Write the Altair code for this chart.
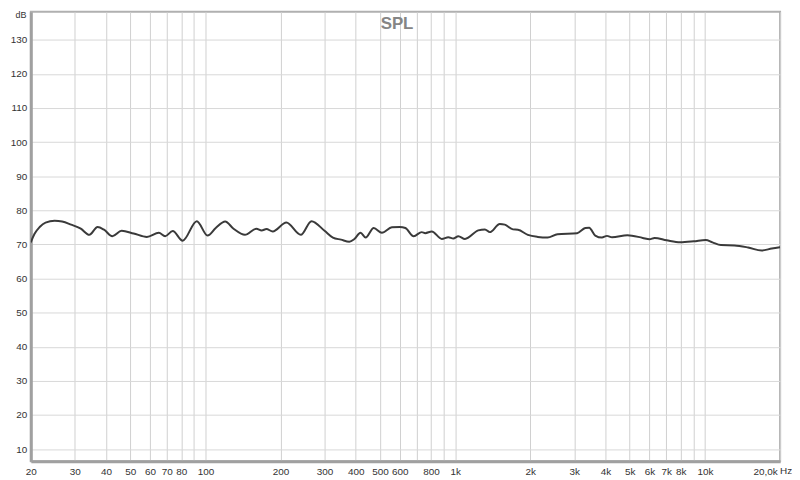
import altair as alt
import pandas as pd

freq = [20, 20.7, 21.7, 22.9, 24.9, 26.7, 29.0, 31.7, 34.3, 37.0, 39.3, 42.4, 46.2, 51.6,
        58.3, 65.1, 69.0, 74.0, 81.1, 92.4, 102, 110, 120, 129.6, 144, 160, 168, 175.5,
        186, 211, 241, 266, 300, 324, 349, 377, 395, 418, 438, 472, 509, 558, 600, 632,
        682, 735, 759, 806, 884, 939, 983, 1030, 1095, 1237, 1316, 1377, 1509, 1580,
        1704, 1784, 1955, 2141, 2345, 2568, 3080, 3320, 3440, 3638, 3870, 4054, 4248,
        4895, 5637, 5997, 6288, 7026, 7965, 9030, 10075, 10723, 11590, 13140, 14890,
        16880, 18530, 20000]
spl = [70.6, 73.1, 75.1, 76.4, 76.9, 76.7, 75.8, 74.6, 72.8, 75.1, 74.3, 72.4, 74.0, 73.2,
       72.2, 73.4, 72.4, 73.9, 71.1, 76.8, 72.6, 74.8, 76.7, 74.6, 72.8, 74.6, 74.1, 74.5,
       73.8, 76.4, 72.8, 76.8, 74.0, 72.0, 71.4, 70.8, 71.6, 73.4, 72.0, 74.8, 73.4, 75.0,
       75.1, 74.8, 72.4, 73.6, 73.3, 73.8, 71.6, 72.1, 71.7, 72.4, 71.6, 74.1, 74.4, 73.6,
       76.0, 75.8, 74.4, 74.3, 72.8, 72.2, 72.0, 73.0, 73.3, 74.8, 74.9, 72.6, 72.0, 72.5,
       72.1, 72.7, 71.9, 71.5, 71.9, 71.2, 70.6, 70.9, 71.3, 70.6, 69.8, 69.7, 69.1, 68.2,
       68.8, 69.2]

x_ticks = [20, 30, 40, 50, 60, 70, 80, 90, 100, 200, 300, 400, 500, 600, 700, 800, 900,
           1000, 2000, 3000, 4000, 5000, 6000, 7000, 8000, 9000, 10000, 20000]
y_ticks = [10, 20, 30, 40, 50, 60, 70, 80, 90, 100, 110, 120, 130]

df = pd.DataFrame({"freq": freq, "spl": spl})

W, H = 755, 453
FONT = "Liberation Sans"

label_expr = ("datum.value == 90 || datum.value == 700 || datum.value == 900 || datum.value == 9000 ? '' : "
              "datum.value >= 20000 ? '20,0k' : "
              "datum.value >= 1000 ? (datum.value / 1000) + 'k' : datum.value")

x_enc = alt.X("freq:Q",
              scale=alt.Scale(type="log", domain=[20, 20000], nice=False),
              axis=alt.Axis(values=x_ticks, labelExpr=label_expr, title=None,
                            grid=True, gridColor="#d0d0d0", gridWidth=1,
                            ticks=False, domainColor="#a0a0a0", domainWidth=3,
                            labelFont=FONT, labelFontSize=10, labelColor="#333333",
                            labelPadding=5, labelOverlap=False, labelFlush=False,
                            labelOffset={"condition": {"test": "datum.value >= 20000", "value": -15},
                                         "value": 0}))
y_enc = alt.Y("spl:Q",
              scale=alt.Scale(domain=[6.4, 138.2], nice=False, zero=False),
              axis=alt.Axis(values=y_ticks, title=None, grid=True,
                            gridColor="#d8d8d8", gridWidth=1, ticks=False,
                            domainColor="#a0a0a0", domainWidth=3,
                            labelFont=FONT, labelFontSize=10, labelColor="#333333",
                            labelPadding=4, labelOverlap=False, labelFlush=False))

line = alt.Chart(df).mark_line(color="#3a3a3a", strokeWidth=2, interpolate="monotone",
                               clip=True).encode(x=x_enc, y=y_enc)

title = alt.Chart(pd.DataFrame({"t": ["SPL"]})).mark_text(
    font=FONT, fontSize=17, fontWeight="bold", color="#858585", baseline="alphabetic",
    align="center").encode(text="t:N", x=alt.value(369), y=alt.value(17))

db = alt.Chart(pd.DataFrame({"t": ["dB"]})).mark_text(
    font=FONT, fontSize=9, color="#333333", baseline="alphabetic", align="center"
).encode(text="t:N", x=alt.value(-10), y=alt.value(6))

hz = alt.Chart(pd.DataFrame({"t": ["Hz"]})).mark_text(
    font=FONT, fontSize=10, color="#333333", baseline="top", align="left"
).encode(text="t:N", x=alt.value(755), y=alt.value(H + 5))

chart = alt.layer(line, title, db, hz).properties(
    width=W, height=H,
    autosize=alt.AutoSizeParams(type="none"),
    padding={"left": 23, "top": 2, "right": 12, "bottom": 16},
    background="white",
).configure_view(stroke="#b0b0b0", strokeWidth=2)

chart.save("out.html", embed_options={"renderer": "svg", "actions": False})
